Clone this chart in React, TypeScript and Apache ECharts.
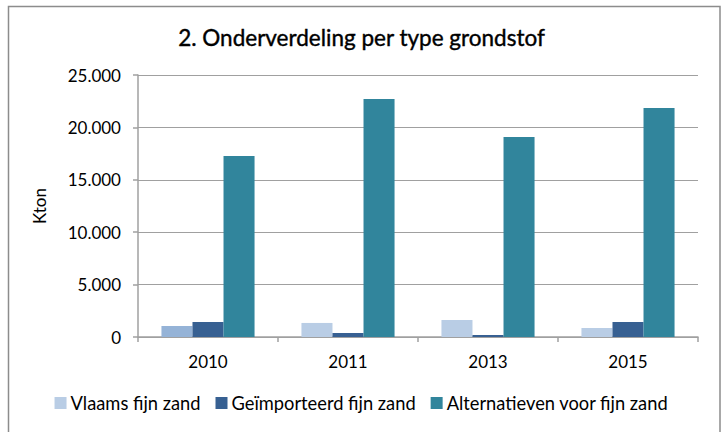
import React, { useEffect, useRef } from "react";
import * as echarts from "echarts";

const categories = ["2010", "2011", "2013", "2015"];
const vlaams = [1050, 1340, 1620, 860];
const geimporteerd = [1430, 380, 190, 1430];
const alternatieven = [17270, 22710, 19080, 21850];
const yTicks = [0, 5000, 10000, 15000, 20000, 25000];

const FONT = "Lato";

export default function App() {
  const ref = useRef<HTMLDivElement>(null);
  useEffect(() => {
    if (!ref.current) return;
    const chart = echarts.init(ref.current, null, { renderer: "svg" });
    const fmt = (v: number) =>
      v === 0 ? "0" : String(v).replace(/\B(?=(\d{3})+(?!\d))/g, ".");
    chart.setOption({
      animation: false,
      backgroundColor: "#ffffff",
      title: {
        text: "2. Onderverdeling per type grondstof",
        left: "center",
        top: 21,
        textStyle: { fontFamily: FONT, fontSize: 22.5, fontWeight: "normal", color: "#000", textBorderColor: "#000", textBorderWidth: 0.4 },
      },
      graphic: [
        {
          type: "rect",
          shape: { x: 8.5, y: 6.5, width: 711.5, height: 440 },
          style: { fill: "none", stroke: "#8c8c8c", lineWidth: 1.5 },
          silent: true,
        },
      ],
      legend: {
        bottom: 15,
        left: "center",
        itemWidth: 12,
        itemHeight: 12,
        itemGap: 15,
        icon: "rect",
        textStyle: { fontFamily: FONT, fontSize: 18.3, color: "#000", padding: [0, 0, 0, -1] },
        data: ["Vlaams fijn zand", "Geïmporteerd fijn zand", "Alternatieven voor fijn zand"],
      },
      grid: { left: 138, right: 25, top: 75, bottom: 95, containLabel: false },
      xAxis: {
        type: "category",
        data: categories,
        axisLine: { lineStyle: { color: "#a0a0a0", width: 1.5 } },
        axisTick: { show: true, length: 5, lineStyle: { color: "#a0a0a0", width: 1.5 } },
        axisLabel: { fontFamily: FONT, fontSize: 17, color: "#000", margin: 16 },
      },
      yAxis: {
        type: "value",
        min: yTicks[0],
        max: yTicks[yTicks.length - 1],
        interval: yTicks[1] - yTicks[0],
        name: "Kton",
        nameLocation: "middle",
        nameGap: 90,
        nameRotate: 90,
        nameTextStyle: { fontFamily: FONT, fontSize: 17, color: "#000" },
        axisLine: { show: true, lineStyle: { color: "#a0a0a0", width: 1.5 } },
        axisTick: { show: true, length: 5, lineStyle: { color: "#a0a0a0", width: 1.5 } },
        axisLabel: { fontFamily: FONT, fontSize: 17, color: "#000", margin: 17, formatter: fmt },
        splitLine: { lineStyle: { color: "#a0a0a0", width: 1.2 } },
      },
      series: [
        {
          name: "Vlaams fijn zand",
          type: "bar",
          barGap: "0%",
          barCategoryGap: "33.5%",
          itemStyle: { color: "#b9cde5" },
          data: vlaams.map((v, i) =>
            i === 0 ? { value: v, itemStyle: { color: "#95b3d7" } } : v
          ),
        },
        {
          name: "Geïmporteerd fijn zand",
          type: "bar",
          barGap: "0%",
          barCategoryGap: "33.5%",
          itemStyle: { color: "#376092" },
          data: geimporteerd,
        },
        {
          name: "Alternatieven voor fijn zand",
          type: "bar",
          barGap: "0%",
          barCategoryGap: "33.5%",
          itemStyle: { color: "#31859c" },
          data: alternatieven,
        },
      ],
    });
    return () => chart.dispose();
  }, []);
  return (
    <div
      ref={ref}
      style={{ position: "absolute", left: 0, top: 0, width: 723, height: 432 }}
    />
  );
}
